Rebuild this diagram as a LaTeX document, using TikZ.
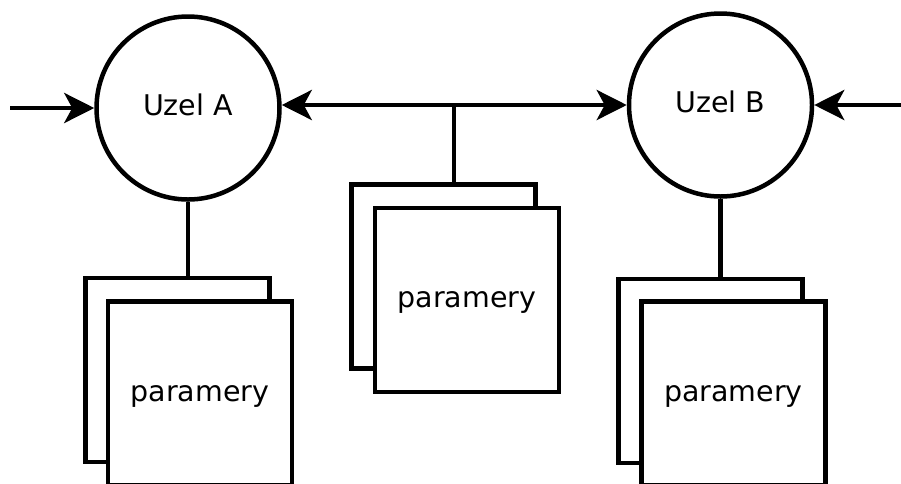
\documentclass[tikz,border=0pt]{standalone}
\usepackage{fontspec}
\setmainfont{DejaVu Sans}
\usetikzlibrary{arrows.meta}
\begin{document}
\begin{tikzpicture}[x=1pt,y=-1pt,
  uzel/.style={circle, draw, line width=4.5pt, minimum size=183pt, inner sep=0pt,
    font=\fontsize{28.5}{34}\selectfont, text height=15.4pt, text depth=0pt},
  sheet/.style={rectangle, draw, fill=white, line width=4.5pt, minimum width=184pt,
    minimum height=184pt, inner sep=0pt, font=\fontsize{28.5}{34}\selectfont,
    text height=15.6pt, text depth=0pt},
  link/.style={line width=4.5pt},
  tip/.tip={Stealth[length=30pt,width=30pt,inset=8pt]},
  arr/.style={link, -tip},
  biarr/.style={link, tip-tip},
]
\path[use as bounding box, clip] (0,0) rectangle (901,483);

% the two nodes
\node[uzel] (A) at (188,108) {Uzel A};
\node[uzel] (B) at (720.5,105) {Uzel B};

% parameter sheets: a back sheet with a front sheet over it
\node[sheet] (Lback) at (177.3,370) {};
\node[sheet] (Lfront) at (200,393.3) {paramery};
\node[sheet] (Mback) at (443.5,276.5) {};
\node[sheet] (Mfront) at (466.8,300) {paramery};
\node[sheet] (Rback) at (710.5,370.8) {};
\node[sheet] (Rfront) at (733.3,393.3) {paramery};

% connection points
\coordinate (bus) at (454,105);
\coordinate (inL) at (10,108);
\coordinate (inR) at (903,105);

% connectors
\draw[arr] (inL) -- (A.west);
\draw[arr] (inR) -- (B.east);
\draw[biarr] (A.east |- bus) -- (B.west |- bus);
\draw[link] (bus) -- (bus |- Mback.north);
\draw[link] (A.south) -- (A.south |- Lback.north);
\draw[link] (B.south) -- (B.south |- Rback.north);
\end{tikzpicture}
\end{document}
